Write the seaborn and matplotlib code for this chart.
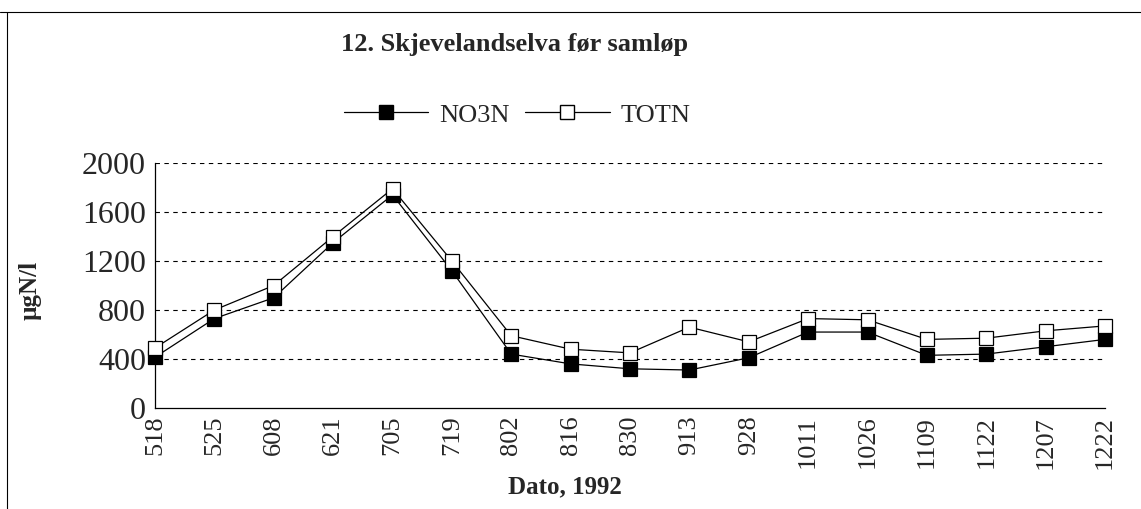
import numpy as np
import pandas as pd
import matplotlib
matplotlib.use("Agg")
import matplotlib.pyplot as plt
from matplotlib.lines import Line2D
import seaborn as sns

# --- data ---
dates = ["518", "525", "608", "621", "705", "719", "802", "816", "830",
         "913", "928", "1011", "1026", "1109", "1122", "1207", "1222"]
no3n = [415, 730, 900, 1350, 1740, 1120, 440, 360, 320, 310, 410, 620, 620, 430, 440, 500, 560]
totn = [490, 800, 1000, 1400, 1790, 1200, 590, 480, 450, 660, 540, 730, 720, 560, 570, 630, 670]
yticks = [0, 400, 800, 1200, 1600, 2000]

sns.set_style("white")
plt.rcParams['font.family'] = ['Liberation Serif', 'DejaVu Serif']

W, H = 1141, 509
fig = plt.figure(figsize=(W / 100, H / 100), dpi=100)
ax = fig.add_axes([155 / W, 1 - 408 / H, 950 / W, 245 / H])

pos = np.arange(len(dates))
df = pd.DataFrame({"pos": np.concatenate([pos, pos]),
                   "val": no3n + totn,
                   "serie": ["NO3N"] * len(dates) + ["TOTN"] * len(dates)})

for name, face in [("NO3N", "black"), ("TOTN", "white")]:
    sub = df[df["serie"] == name]
    sns.lineplot(data=sub, x="pos", y="val", ax=ax, color="black", lw=0.9,
                 marker="s", markersize=10, markerfacecolor=face,
                 markeredgecolor="black", markeredgewidth=0.9,
                 clip_on=False, zorder=3, legend=False)

ax.set_xlim(0, len(dates) - 1)
ax.set_ylim(0, 2000)
ax.set_yticks(yticks)
ax.set_yticklabels([str(v) for v in yticks], fontsize=23)
ax.set_xticks(pos)
ax.set_xticklabels(dates, rotation=90, fontsize=19)
ax.set_xlabel("")
ax.set_ylabel("")
ax.tick_params(axis="both", direction="inout", length=7, width=0.8, color="black")
ax.tick_params(axis="y", pad=3)
ax.tick_params(axis="x", pad=2)

for y in yticks[1:]:
    ax.axhline(y, color="black", lw=0.8, ls=(0, (4, 4)), zorder=1)

for s in ["top", "right"]:
    ax.spines[s].set_visible(False)
for s in ["left", "bottom"]:
    ax.spines[s].set_color("black")
    ax.spines[s].set_linewidth(0.9)

fig.text(515 / W, 1 - 45 / H, "12. Skjevelandselva før samløp", ha="center", va="center",
         fontsize=19, fontweight="bold")
fig.text(30 / W, 1 - 290 / H, "µgN/l", ha="center", va="center", rotation=90,
         fontsize=18, fontweight="bold")
fig.text(565 / W, 1 - 487 / H, "Dato, 1992", ha="center", va="center",
         fontsize=18, fontweight="bold")

handles = [Line2D([], [], color="black", lw=0.9, marker="s", markersize=10,
                  markerfacecolor="black", markeredgecolor="black"),
           Line2D([], [], color="black", lw=0.9, marker="s", markersize=10,
                  markerfacecolor="white", markeredgecolor="black")]
fig.legend(handles, ["NO3N", "TOTN"], loc="center", bbox_to_anchor=(517 / W, 1 - 115 / H),
           ncol=2, frameon=False, fontsize=19, handlelength=3.2, columnspacing=0.6,
           handletextpad=0.4, borderpad=0, borderaxespad=0)

# frame lines around the figure area
fig.add_artist(Line2D([0, 1], [1 - 12 / H, 1 - 12 / H], color="black", lw=0.8))
fig.add_artist(Line2D([7 / W, 7 / W], [0, 1 - 12 / H], color="black", lw=0.8))

fig.savefig("out.png", dpi=100)
